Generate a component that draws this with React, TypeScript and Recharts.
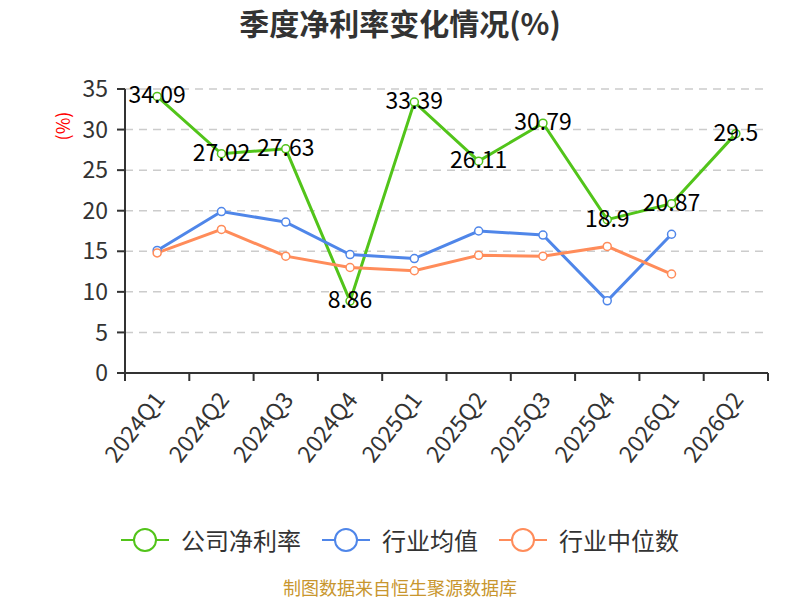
import React from 'react'
import { LineChart, Line, XAxis, YAxis, CartesianGrid, Legend } from 'recharts'

const quarters = ['2024Q1', '2024Q2', '2024Q3', '2024Q4', '2025Q1', '2025Q2', '2025Q3', '2025Q4', '2026Q1', '2026Q2']
const companyMargin = [34.09, 27.02, 27.63, 8.86, 33.39, 26.11, 30.79, 18.9, 20.87, 29.5]
const industryAvg = [15.1, 19.9, 18.6, 14.6, 14.1, 17.5, 17.0, 8.9, 17.1, null]
const industryMedian = [14.8, 17.7, 14.4, 13.0, 12.6, 14.5, 14.4, 15.6, 12.2, null]
const yTicks = [0, 5, 10, 15, 20, 25, 30, 35]

const seriesNames = ['公司净利率', '行业均值', '行业中位数']
const colors = ['#52c41a', '#4f86e9', '#ff8c5a']

const data = quarters.map((q, i) => ({
  q,
  company: companyMargin[i],
  avg: industryAvg[i],
  median: industryMedian[i],
}))

const FONT = '"Noto Sans CJK SC", "Noto Sans", sans-serif'
const W = 800
const H = 600
const M = { top: 89, right: 32, bottom: 147, left: 40 }
const Y_W = 85
const X_H = 80
const bandW = (W - M.left - Y_W - M.right) / quarters.length

function XTick(props: any) {
  const { x, y, payload, index } = props
  const axisY = y - 14
  const ax = x + 1
  const ay = axisY + 21
  return (
    <g>
      <line x1={x - bandW / 2} y1={axisY} x2={x - bandW / 2} y2={axisY + 8} stroke="#333" strokeWidth={2} />
      {index === quarters.length - 1 && (
        <line x1={x + bandW / 2} y1={axisY} x2={x + bandW / 2} y2={axisY + 8} stroke="#333" strokeWidth={2} />
      )}
      <text
        x={ax}
        y={ay}
        textAnchor="end"
        dominantBaseline="central"
        transform={`rotate(-52, ${ax}, ${ay})`}
        fontSize={23}
        fill="#333"
        fontFamily={FONT}
      >
        {payload.value}
      </text>
    </g>
  )
}

function ValueLabel(props: any) {
  const { x, y, value } = props
  if (value == null) return null
  return (
    <text x={x} y={y - 3} textAnchor="middle" dominantBaseline="central" fontSize={23} fill="#000" fontFamily={FONT}>
      {value}
    </text>
  )
}

function LegendBox() {
  return (
    <div style={{ display: 'flex', justifyContent: 'center', alignItems: 'center', fontFamily: FONT }}>
      {seriesNames.map((n, i) => (
        <div key={n} style={{ display: 'flex', alignItems: 'center', marginLeft: i === 0 ? 0 : 21 }}>
          <svg width={48} height={26}>
            <line x1={0} y1={13} x2={48} y2={13} stroke={colors[i]} strokeWidth={2} />
            <circle cx={24} cy={13} r={11} fill="#fff" stroke={colors[i]} strokeWidth={2} />
          </svg>
          <span style={{ marginLeft: 12, fontSize: 24, color: '#333' }}>{n}</span>
        </div>
      ))}
    </div>
  )
}

export default function App() {
  return (
    <div style={{ position: 'absolute', left: 0, top: 0, width: W, height: H, background: '#fff', fontFamily: FONT }}>
      <div style={{ position: 'absolute', top: 0, width: W, textAlign: 'center', fontSize: 30, fontWeight: 'bold', color: '#333' }}>
        季度净利率变化情况(%)
      </div>
      <LineChart width={W} height={H} data={data} margin={M}>
        <CartesianGrid vertical={false} stroke="#ccc" strokeDasharray="8 6" strokeWidth={1.5} />
        <XAxis
          dataKey="q"
          scale="band"
          height={X_H}
          interval={0}
          tick={<XTick />}
          tickLine={false}
          tickSize={6}
          tickMargin={8}
          axisLine={{ stroke: '#333', strokeWidth: 2 }}
        />
        <YAxis
          domain={[0, 35]}
          ticks={yTicks}
          width={Y_W}
          interval={0}
          tick={{ fontSize: 23, fill: '#333', fontFamily: FONT }}
          tickLine={{ stroke: '#333', strokeWidth: 2 }}
          tickSize={8}
          tickMargin={9}
          axisLine={{ stroke: '#333', strokeWidth: 2 }}
          label={() => (
            <text
              x={62}
              y={126}
              textAnchor="middle"
              dominantBaseline="central"
              transform="rotate(-90, 62, 126)"
              fontSize={18}
              fill="#ff0000"
              fontFamily={FONT}
            >
              (%)
            </text>
          )}
        />
        <Legend
          verticalAlign="middle"
          align="center"
          layout="horizontal"
          wrapperStyle={{ top: 522, left: 0, width: W }}
          content={<LegendBox />}
        />
        <Line
          dataKey="company"
          name={seriesNames[0]}
          stroke={colors[0]}
          strokeWidth={3}
          dot={{ r: 4, fill: '#fff', stroke: colors[0], strokeWidth: 1.5 }}
          label={<ValueLabel />}
          isAnimationActive={false}
        />
        <Line
          dataKey="avg"
          name={seriesNames[1]}
          stroke={colors[1]}
          strokeWidth={3}
          dot={{ r: 4, fill: '#fff', stroke: colors[1], strokeWidth: 1.5 }}
          isAnimationActive={false}
        />
        <Line
          dataKey="median"
          name={seriesNames[2]}
          stroke={colors[2]}
          strokeWidth={3}
          dot={{ r: 4, fill: '#fff', stroke: colors[2], strokeWidth: 1.5 }}
          isAnimationActive={false}
        />
      </LineChart>
      <div style={{ position: 'absolute', top: 574, left: 0, width: W, textAlign: 'center', fontSize: 18, color: '#c8962e' }}>
        制图数据来自恒生聚源数据库
      </div>
    </div>
  )
}
